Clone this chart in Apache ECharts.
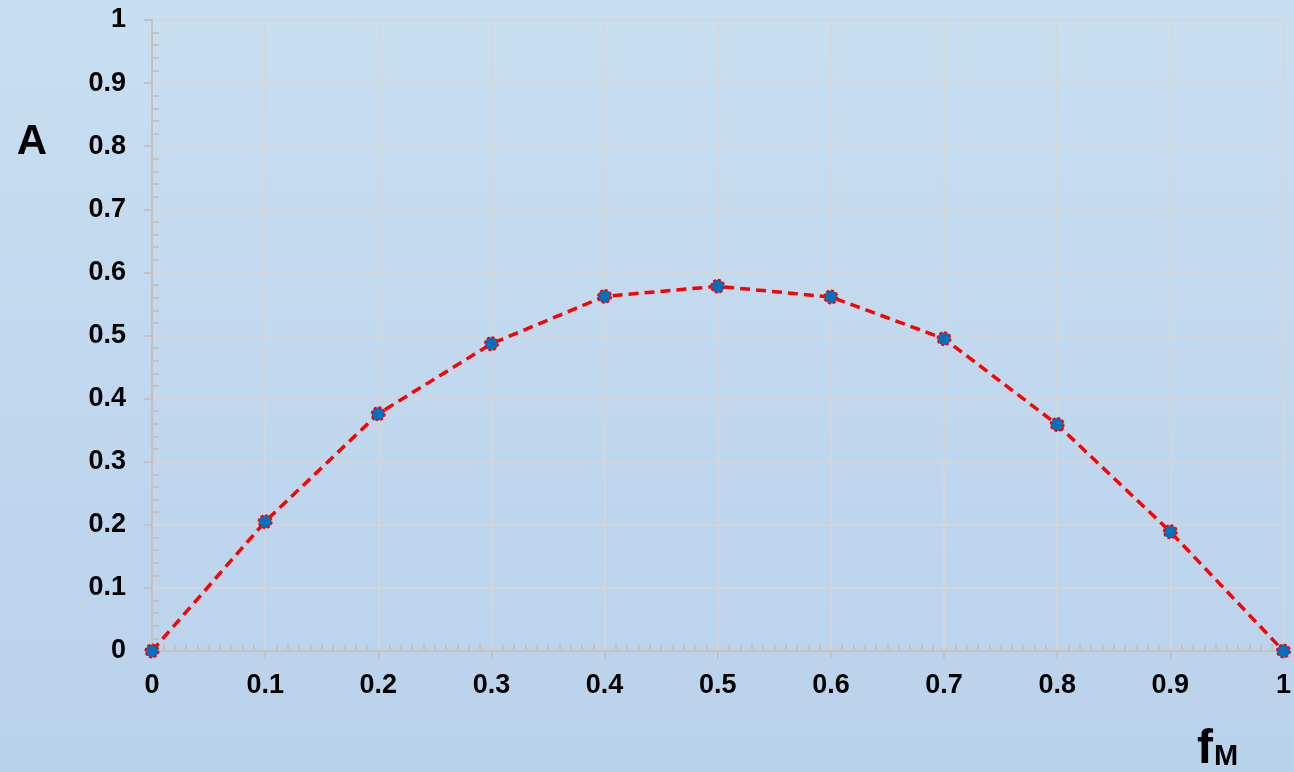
<!DOCTYPE html>
<html>
<head>
<meta charset="utf-8">
<title>A vs fM</title>
<script src="https://cdn.jsdelivr.net/npm/echarts@6/dist/echarts.min.js"></script>
<style>
  html, body { margin: 0; padding: 0; }
  #chart { width: 1294px; height: 772px; }
</style>
</head>
<body>
<div id="chart"></div>
<script>
// Composition fraction fM and the corresponding A values
const fM = [0, 0.1, 0.2, 0.3, 0.4, 0.5, 0.6, 0.7, 0.8, 0.9, 1];
const A = [0, 0.205, 0.376, 0.487, 0.562, 0.578, 0.561, 0.495, 0.359, 0.189, 0];

const FONT = '"Liberation Sans", Arial, sans-serif';
const AXIS_GRAY = '#c2c2c2';
const GRID_GRAY = '#d6d6d6';

const points = fM.map((x, i) => [x, A[i]]);

const labelStyle = { color: '#000', fontFamily: FONT, fontWeight: 'bold', fontSize: 27 };

// Main axis: line, outward major ticks, labels, grid lines
function mainAxis(extra) {
  return Object.assign({
    type: 'value', min: 0, max: 1, interval: 0.1,
    axisLine: { show: true, onZero: false, lineStyle: { color: AXIS_GRAY, width: 2 } },
    axisTick: { show: true, inside: false, length: 8, lineStyle: { color: AXIS_GRAY, width: 2 } },
    splitLine: { show: true, lineStyle: { color: GRID_GRAY, width: 1.5 } },
    minorTick: { show: false }
  }, extra);
}

// Overlay axis carrying only the inward minor ticks
function minorAxis(extra, splits) {
  return Object.assign({
    type: 'value', min: 0, max: 1, interval: 0.1,
    axisLine: { show: false, onZero: false },
    axisTick: { show: false, inside: true },
    axisLabel: { show: false },
    splitLine: { show: false },
    minorTick: { show: true, splitNumber: splits, length: 7, lineStyle: { color: AXIS_GRAY, width: 2 } }
  }, extra);
}

const chart = echarts.init(document.getElementById('chart'), null, { renderer: 'canvas' });

chart.setOption({
  animation: false,
  backgroundColor: {
    type: 'linear', x: 0, y: 0, x2: 0, y2: 1,
    colorStops: [
      { offset: 0, color: '#c8def1' },
      { offset: 1, color: '#b9d2eb' }
    ]
  },
  grid: { left: 152, right: 9, top: 20, bottom: 121, containLabel: false },
  xAxis: [
    mainAxis({ position: 'bottom', axisLabel: Object.assign({ margin: 21 }, labelStyle) }),
    minorAxis({ position: 'bottom' }, 10)
  ],
  yAxis: [
    mainAxis({ position: 'left', axisLabel: Object.assign({ margin: 26 }, labelStyle) }),
    minorAxis({ position: 'left' }, 5)
  ],
  graphic: [
    {
      type: 'text', x: 32, y: 142,
      style: { text: 'A', fill: '#000', font: 'bold 42px ' + FONT, align: 'center', verticalAlign: 'middle' }
    },
    {
      type: 'text', x: 1197, y: 750,
      style: { text: 'f', fill: '#000', font: 'bold 48px ' + FONT, align: 'left', verticalAlign: 'middle' }
    },
    {
      type: 'text', x: 1214, y: 757,
      style: { text: 'M', fill: '#000', font: 'bold 29px ' + FONT, align: 'left', verticalAlign: 'middle' }
    }
  ],
  series: [{
    type: 'line',
    xAxisIndex: 0,
    yAxisIndex: 0,
    data: points,
    clip: false,
    z: 5,
    lineStyle: { color: '#ff0000', width: 3.5, type: [10, 6] },
    symbol: 'circle',
    symbolSize: 13,
    itemStyle: { color: '#0070c0', borderColor: '#ff0000', borderWidth: 2, borderType: [3, 2] }
  }]
});
</script>
</body>
</html>
